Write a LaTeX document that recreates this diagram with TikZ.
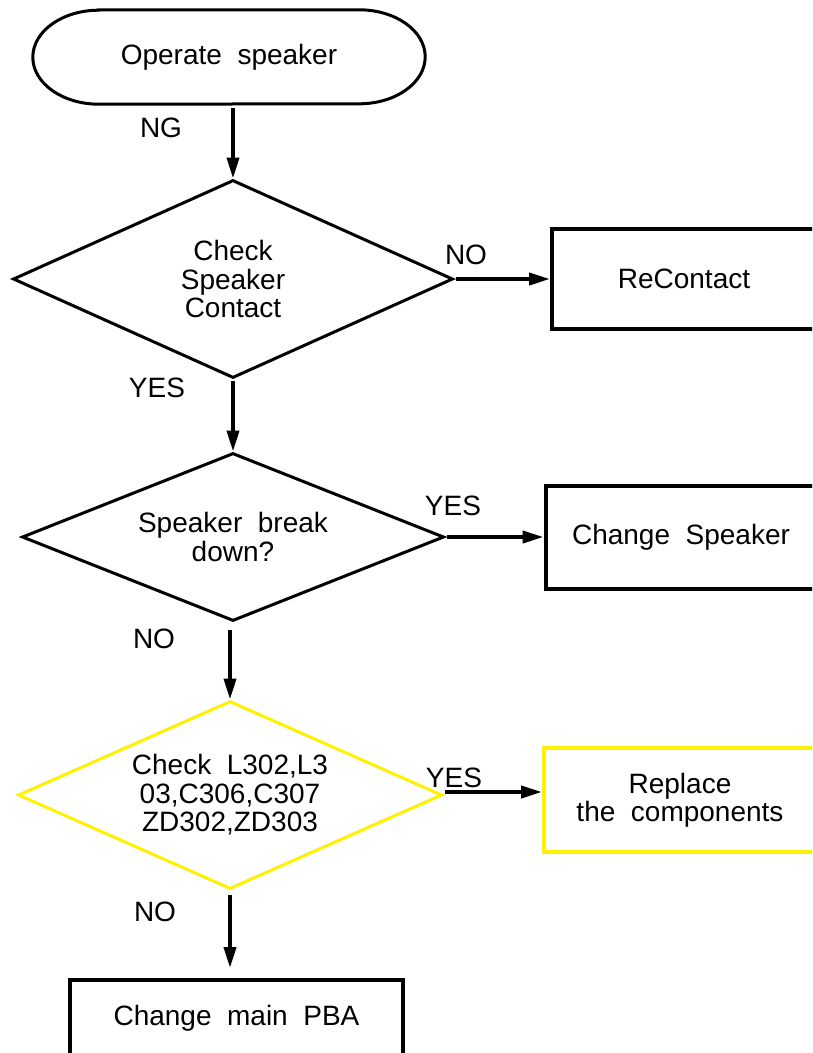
\documentclass[tikz,border=0pt]{standalone}
\usepackage{fontspec}
\setmainfont{Liberation Sans}[WordSpace=2]
\usepackage{tikz}
\usetikzlibrary{shapes.geometric, arrows.meta}
\tikzstyle{startstop} = [rectangle, minimum width=392pt, minimum height=94pt, inner sep=0pt, text centered]
\tikzstyle{decision} = [diamond, aspect=2.2, inner sep=0pt, align=center, draw=black, line width=3pt]
\tikzstyle{action} = [rectangle, minimum height=100pt, inner sep=0pt, align=center, draw=black, line width=4pt]
\tikzstyle{lbl} = [inner sep=0pt]
\tikzset{arw/.style={-{Triangle[length=21pt,width=12pt]},line width=4pt,shorten <= 1pt}}

\begin{document}
\begin{tikzpicture}[x=1pt, y=1pt, node distance=258pt, font=\fontsize{28}{28.5}\selectfont]
			\useasboundingbox (0,0) rectangle (812,-1053);
			\clip (0,0) rectangle (812,-1053);
			\node (start) [startstop] at (229,-57) {Operate speaker};
			\node (chk) [decision, below of=start, xshift=4pt, yshift=36pt, minimum width=440pt, minimum height=198pt] {Check\\Speaker\\Contact};
			\node (recontact) [action, right of=chk, xshift=193pt, minimum width=264pt] {ReContact};
			\node (brk) [decision, below of=chk, minimum width=422pt, minimum height=168pt] {Speaker break\\down?};
			\node (chgspk) [action, right of=brk, xshift=190pt, minimum width=271pt, minimum height=103pt] {Change Speaker};
			\node (comp) [decision, draw=yellow, below of=brk, xshift=-3pt, minimum width=424pt, minimum height=188pt] {Check L302,L3\\03,C306,C307\\ZD302,ZD303};
			\node (repl) [action, draw=yellow, right of=comp, xshift=192pt, yshift=-5pt, minimum width=272pt, minimum height=104pt] {Replace\\the components};
			\node (pba) [action, below of=comp, xshift=6.5pt, yshift=35pt, minimum width=333pt, minimum height=76pt] {Change main PBA};
			
			\node (ng) [lbl] at (161,-128) {NG};
			\node (no1) [lbl] at (466,-255) {NO};
			\node (yes1) [lbl] at (157,-388) {YES};
			\node (yes2) [lbl] at (453,-506) {YES};
			\node (no2) [lbl] at (154,-639) {NO};
			\node (yes3) [lbl] at (454,-778) {YES};
			\node (no3) [lbl] at (155,-912) {NO};
			
			\draw [line width=3pt] ([xshift=66pt]start.north west) -- ([xshift=-66pt]start.north east)
				arc [start angle=90, end angle=-90, x radius=66pt, y radius=47pt]
				-- ([xshift=66pt]start.south west)
				arc [start angle=270, end angle=90, x radius=66pt, y radius=47pt] -- cycle;
			
			\draw [arw, shorten <= 4pt] (start.south -| chk.north) -- (chk.north);
			\draw [arw] (chk.east) -- (recontact.west);
			\draw [arw] (chk.south) -- (brk.north);
			\draw [arw] (brk.east) -- (chgspk.west);
			\draw [arw, shorten <= 7pt] (brk.south -| comp.north) -- (comp.north);
			\draw [arw] ([yshift=3pt]comp.east) -- ([yshift=3pt]comp.east -| repl.west);
			\draw [arw, shorten <= 4pt, shorten >= 10pt] (comp.south) -- (comp.south |- pba.north);
			
			
\end{tikzpicture}
\end{document}
